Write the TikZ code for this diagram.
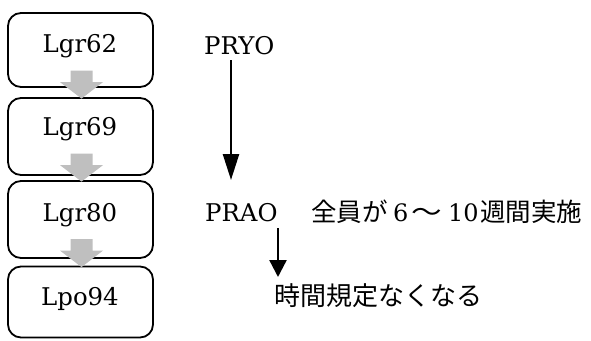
\documentclass[tikz,border=0pt]{standalone}
\usepackage{fontspec}
\setmainfont{DejaVu Serif}
\newfontfamily\jp{Noto Sans CJK JP}
\newcommand\dig{\rmfamily\fontsize{24}{28}\selectfont}
\usetikzlibrary{arrows.meta,calc}
\definecolor{arrgray}{RGB}{191,191,191}
\tikzset{
  box/.style={draw, line width=1.8pt, rounded corners=13pt, minimum width=145pt, inner sep=0pt},
  lbl/.style={anchor=base, inner sep=0pt, font=\fontsize{24.4}{29}\selectfont},
  lbll/.style={anchor=base west, inner sep=0pt, font=\fontsize{24.4}{29}\selectfont},
  jtxt/.style={anchor=base west, inner sep=0pt, font=\jp\fontsize{25.5}{30}\selectfont},
  conn/.style={line width=2.4pt, -{Triangle[length=26pt,width=16pt]}},
  connsmall/.style={line width=2.4pt, -{Triangle[length=17pt,width=17pt]}},
  blockarr/.style={fill=arrgray, draw=none},
}
\newcommand\blockarrow[1]{%
  \fill[blockarr] ($(#1.north)+(-10,-26.5)$) -- ($(#1.north)+(12,-26.5)$) --
    ($(#1.north)+(12,-15)$) -- ($(#1.north)+(22.5,-15)$) --
    ($(#1.north)+(1,1.5)$) -- ($(#1.north)+(-20.5,-15)$) --
    ($(#1.north)+(-10,-15)$) -- cycle;}
\begin{document}
\begin{tikzpicture}[x=1pt,y=-1pt]
\useasboundingbox (0,0) rectangle (591,340);
% boxes
\node[box, minimum height=74pt] (b1) at (80.5,50) {};
\node[box, minimum height=77pt] (b2) at (80.5,136.5) {};
\node[box, minimum height=77pt] (b3) at (80.5,219.5) {};
\node[box, minimum height=71pt] (b4) at (80.5,302) {};
\node[lbl] (l1) at (80,52) {Lgr62};
\node[lbl] (l2) at (80,135) {Lgr69};
\node[lbl] (l3) at (80,221.5) {Lgr80};
\node[lbl] (l4) at (80,305) {Lpo94};
% grey block arrows
\blockarrow{b2}
\blockarrow{b3}
\blockarrow{b4}
% right side
\node[lbll] (pryo) at (204,54) {PRYO};
\node[lbll] (prao) at (205,221) {PRAO};
\node[jtxt] (zen) at (311,221) {全員が\hspace{5.5pt}{\dig 6}\hspace{3pt}\scalebox{1.2}[1]{～}\hspace{6pt}{\dig 10}\hspace{1.5pt}週間実施};
\node[jtxt, font=\jp\fontsize{26}{30}\selectfont] (jikan) at (274,305) {時間規定なくなる};
\coordinate (p1) at (231,60);
\coordinate (p2) at (231,180);
\coordinate (q1) at (278,228);
\coordinate (q2) at (278,277);
\draw[conn] (p1) -- (p2);
\draw[connsmall] (q1) -- (q2);
\end{tikzpicture}
\end{document}
